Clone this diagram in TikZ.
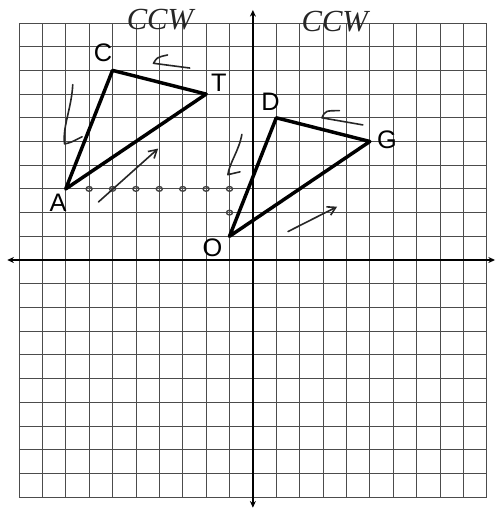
\documentclass[tikz,border=0pt]{standalone}
\usepackage{fontspec}
\setmainfont{Liberation Sans}
\newfontfamily\handfont{Liberation Serif}
\usetikzlibrary{arrows.meta}
\begin{document}
\begin{tikzpicture}[x=17.55pt,y=17.78pt,
  gridline/.style={gray!60!black, line width=0.6pt},
  axisline/.style={black, line width=1.2pt, {Stealth[length=5pt,width=4.5pt]}-{Stealth[length=5pt,width=4.5pt]}},
  side/.style={black, line width=2.6pt, line join=round, line cap=round},
  vlabel/.style={font=\fontsize{19}{19}\selectfont, inner sep=0pt},
  hand/.style={black!85, line width=1.2pt, line cap=round, line join=round},
  handarrow/.style={hand, -{Straight Barb[length=6pt,width=7pt]}},
  handtext/.style={font=\handfont\itshape\fontsize{23}{23}\selectfont, inner sep=0pt, black!85},
  hole/.style={draw=black!75, line width=1pt}]
\useasboundingbox (-10.81,-10.506) rectangle (10.385,10.97);
% grid and axes
\draw[gridline, step=1] (-10,-10) grid (10,10);
\coordinate (xl) at (-10.5,0);
\coordinate (xr) at (10.35,0);
\coordinate (yt) at (0,10.55);
\coordinate (yb) at (0,-10.45);
\draw[axisline] (xl) -- (xr);
\draw[axisline] (yt) -- (yb);
% vertices
\coordinate (A) at (-8,3);
\coordinate (C) at (-6,8);
\coordinate (T) at (-2,7);
\coordinate (O) at (-1,1);
\coordinate (D) at (1,6);
\coordinate (G) at (5,5);
\draw[side] (A) -- (C) -- (T) -- cycle;
\draw[side] (O) -- (D) -- (G) -- cycle;
% vertex labels
\node[vlabel] (lA) at (-8.33,2.4) {A};
\node[vlabel] (lC) at (-6.41,8.73) {C};
\node[vlabel] (lT) at (-1.45,7.47) {T};
\node[vlabel] (lO) at (-1.73,0.5) {O};
\node[vlabel] (lD) at (0.75,6.67) {D};
\node[vlabel] (lG) at (5.73,5.06) {G};
% handwritten notes
\node[handtext] (ccw1) at (-3.97,10.13) {CCW};
\node[handtext] (ccw2) at (3.5,10.04) {CCW};
% counting marks along the path from A to O
\foreach \i in {-7,-6,...,-1} \draw[hole] (\i,3) ellipse (0.13 and 0.1);
\draw[hole] (-1,2) ellipse (0.13 and 0.1);
% direction arrows
\coordinate (a1s) at (-6.6,2.45);
\coordinate (a1e) at (-4.05,4.7);
\draw[handarrow] (a1s) -- (a1e);
\coordinate (a2s) at (1.5,1.2);
\coordinate (a2e) at (3.6,2.25);
\draw[handarrow] (a2s) -- (a2e);
% hooks
\draw[hand] (-7.7,7.4) .. controls (-7.75,6.4) and (-8.15,5.6) .. (-8.05,4.9) .. controls (-7.8,4.95) .. (-7.3,5.2);
\draw[hand] (-0.47,5.3) .. controls (-0.6,4.6) and (-1.0,4.1) .. (-1.07,3.6) -- (-0.55,3.72);
\draw[hand] (-2.7,8.1) -- (-4.25,8.3) .. controls (-4.1,8.55) .. (-3.65,8.65);
\draw[hand] (4.7,5.7) -- (2.95,6.0) .. controls (3.1,6.3) .. (3.7,6.3);
\end{tikzpicture}
\end{document}
